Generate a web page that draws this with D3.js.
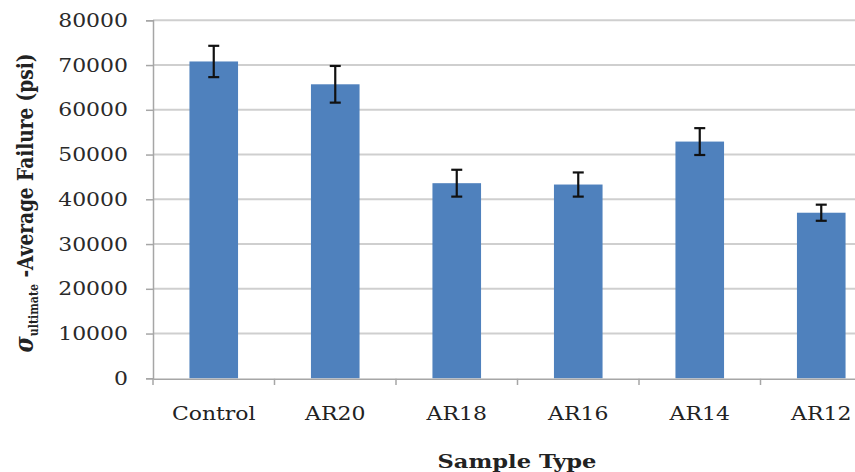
<!DOCTYPE html>
<html><head><meta charset="utf-8">
<script src="https://cdn.jsdelivr.net/npm/d3@7"></script>
<style>body{margin:0;background:#fff}svg{display:block}</style>
</head><body>
<script>
const categories = ["Control","AR20","AR18","AR16","AR14","AR12"];
const values = [70800,65700,43600,43300,52900,37000];
const errors = [3500,4100,3000,2700,3000,1800];
const yTicks = [0,10000,20000,30000,40000,50000,60000,70000,80000];

const W=855,H=472, SX=1.22;
const svg=d3.select("body").append("svg").attr("width",W).attr("height",H);
const x=d3.scaleBand().domain(categories).range([153,882]).padding(0);
const y=d3.scaleLinear().domain([0,80000]).range([378.3,20.3]);
const font="DejaVu Serif";

// gridlines
svg.append("g").selectAll("line").data(yTicks.slice(1)).join("line")
 .attr("x1",153).attr("x2",W).attr("y1",d=>y(d)).attr("y2",d=>y(d))
 .attr("stroke","#cfcfcf").attr("stroke-width",2);

// y axis
const gy=svg.append("g").attr("transform","translate(153,0)")
 .call(d3.axisLeft(y).tickValues(yTicks).tickSize(7).tickFormat(d3.format("d")));
gy.select(".domain").attr("stroke","#a6a6a6").attr("stroke-width",1.5);
gy.selectAll(".tick line").attr("stroke","#a6a6a6").attr("stroke-width",1.5);
gy.selectAll(".tick text").remove();
svg.append("g").selectAll("text").data(yTicks).join("text")
 .attr("transform",d=>`translate(128,${y(d)+6.5}) scale(${SX},1)`)
 .attr("text-anchor","end").attr("font-family",font).attr("font-size",18).attr("fill","#2a2a2a")
 .text(d=>d3.format("d")(d));

// bars
const bw=x.bandwidth()*0.4;
svg.append("g").selectAll("rect").data(categories).join("rect")
 .attr("x",(d)=>x(d)+x.bandwidth()/2-bw/2).attr("width",bw)
 .attr("y",(d,i)=>y(values[i])).attr("height",(d,i)=>y(0)-y(values[i]))
 .attr("fill","#4f81bd");

// x axis
const gx=svg.append("g").attr("transform","translate(0,378.8)")
 .call(d3.axisBottom(x).tickSize(0).tickFormat(""));
gx.select(".domain").attr("stroke","#a6a6a6").attr("stroke-width",1.5);
gx.selectAll(".tick").remove();
svg.append("g").selectAll("line").data(d3.range(categories.length+1)).join("line")
 .attr("x1",i=>153+i*x.step()).attr("x2",i=>153+i*x.step())
 .attr("y1",378.8).attr("y2",385).attr("stroke","#a6a6a6").attr("stroke-width",1.5);
svg.append("g").selectAll("text").data(categories).join("text")
 .attr("transform",d=>`translate(${x(d)+x.bandwidth()/2},${420}) scale(${SX},1)`)
 .attr("text-anchor","middle").attr("font-family",font).attr("font-size",18).attr("fill","#222")
 .text(d=>d);

// error bars
const eg=svg.append("g").attr("stroke","#111").attr("stroke-width",2.2);
categories.forEach((c,i)=>{
  const cx=x(c)+x.bandwidth()/2;
  eg.append("line").attr("x1",cx).attr("x2",cx).attr("y1",y(values[i]+errors[i])).attr("y2",y(values[i]-errors[i]));
  [values[i]+errors[i],values[i]-errors[i]].forEach(v=>{
    eg.append("line").attr("x1",cx-5.5).attr("x2",cx+5.5).attr("y1",y(v)).attr("y2",y(v));
  });
});

// axis titles
svg.append("text").attr("transform",`translate(517,468) scale(${SX},1)`)
 .attr("text-anchor","middle").attr("font-family",font).attr("font-weight","bold").attr("font-size",18.5).attr("fill","#222")
 .text("Sample Type");
const yl=svg.append("text").attr("transform",`translate(33,203) scale(${SX},1) rotate(-90)`)
 .attr("text-anchor","middle").attr("font-family",font).attr("font-weight","bold").attr("font-size",18.5).attr("fill","#222");
yl.append("tspan").attr("font-style","italic").attr("font-size",22).text("σ");
yl.append("tspan").attr("font-size",11).attr("dy",4).text("ultimate");
yl.append("tspan").attr("dy",-4).text(" -Average Failure (psi)");
</script>
</body></html>
